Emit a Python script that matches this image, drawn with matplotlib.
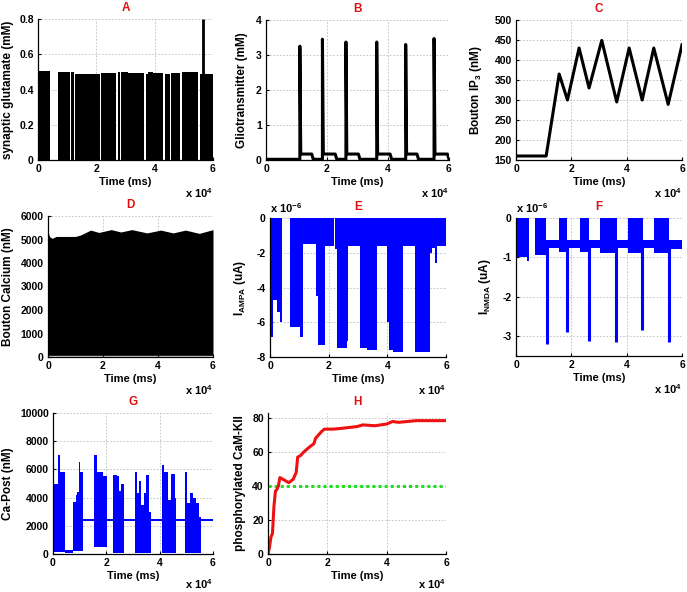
import numpy as np
import matplotlib
matplotlib.use('Agg')
import matplotlib.pyplot as plt

# ---------------- data (time axis in units of 1e4 ms) ----------------
x_ticks = [0, 2, 4, 6]
x_ticklabels = ['0', '2', '4', '6']

# A: synaptic glutamate (mM) - dense pulses drawn as filled blocks
glu_start = [0.00, 0.69, 1.14, 1.27, 2.17, 2.74, 2.86, 3.10, 3.69, 3.78, 3.95, 4.34, 4.56, 4.94, 5.54]
glu_end   = [0.40, 1.09, 1.22, 2.11, 2.69, 2.80, 3.08, 3.63, 3.77, 3.93, 4.29, 4.54, 4.86, 5.49, 6.00]
glu_top   = [0.505, 0.50, 0.50, 0.49, 0.495, 0.50, 0.50, 0.495, 0.49, 0.50, 0.495, 0.49, 0.495, 0.50, 0.49]
glu_spike_t = [5.66]
glu_spike_v = [0.80]
glu_yticks = [0, 0.2, 0.4, 0.6, 0.8]
glu_yticklabels = ['0', '0.2', '0.4', '0.6', '0.8']

# B: gliotransmitter (mM)
glio_spike_t = [1.11, 1.85, 2.62, 3.63, 4.58, 5.51]
glio_peak = [3.25, 3.45, 3.37, 3.37, 3.30, 3.47]
glio_plateau_end = [1.55, 2.32, 3.08, 4.12, 5.00, 6.00]
glio_plateau = 0.17
glio_base = 0.02
glio_yticks = [0, 1, 2, 3, 4]

# C: bouton IP3 (nM)
ip3_t = [0, 1.09, 1.56, 1.86, 2.28, 2.64, 3.10, 3.64, 4.09, 4.56, 4.98, 5.50, 6.0]
ip3_v = [160, 160, 365, 300, 430, 330, 449, 295, 430, 300, 430, 289, 438]
ip3_yticks = [150, 200, 250, 300, 350, 400, 450, 500]

# D: bouton calcium (nM) - upper envelope of dense oscillation
ca_t = [0, 0.02, 0.06, 0.15, 0.3, 1.0, 1.2, 1.55, 1.85, 2.3, 2.65, 3.05, 3.6, 4.1, 4.55, 5.0, 5.5, 6.0]
ca_top = [6000, 5250, 5120, 5050, 5130, 5130, 5200, 5400, 5300, 5420, 5320, 5420, 5280, 5400, 5280, 5400, 5260, 5420]
ca_bottom = 70
ca_yticks = [0, 1000, 2000, 3000, 4000, 5000, 6000]

# E: I_AMPA (x1e-6 uA) - lower envelope per segment
ampa_edges = [0, 0.09, 0.23, 0.34, 0.42, 0.68, 1.02, 1.11, 1.15, 1.57, 1.65, 1.88, 2.18, 2.22, 2.27,
              2.61, 2.67, 3.07, 3.30, 3.64, 3.98, 4.07, 4.20, 4.55, 4.94, 5.45, 5.51, 5.63, 5.70, 6.0]
ampa_min = [-6.85, -4.7, -5.4, -6.0, 0, -6.3, -6.85, -1.5, -1.5, -4.5, -7.3, -1.6, 0, -1.8, -7.5,
            -7.1, -1.6, -7.5, -7.6, -1.6, -6.0, -7.6, -7.7, -1.6, -7.7, -2.0, -1.7, -2.6, -1.6]
ampa_yticks = [0, -2, -4, -6, -8]

# F: I_NMDA (x1e-6 uA) - band envelopes + sharp spikes
nmda_edges = [0, 0.40, 0.46, 0.70, 1.10, 1.55, 1.85, 2.30, 2.65, 3.05, 3.65, 4.05, 4.58, 5.00, 5.52, 6.0]
nmda_upper = [0, 0, 0, 0, -0.55, 0, -0.55, 0, -0.55, 0, -0.55, 0, -0.55, 0, -0.55]
nmda_lower = [-1.0, -1.08, 0, -0.94, -0.75, -0.85, -0.75, -0.86, -0.76, -0.88, -0.75, -0.88, -0.75, -0.88, -0.78]
nmda_spike_t = [1.11, 1.86, 2.64, 3.63, 4.56, 5.52]
nmda_spike_v = [-3.19, -2.88, -3.13, -3.14, -2.84, -3.15]
nmda_yticks = [0, -1, -2, -3]

# G: Ca-Post (nM) - envelopes per segment
capost_edges = [0.00, 0.18, 0.27, 0.45, 0.75, 0.85, 0.91, 0.96, 1.01, 1.12, 1.55, 1.65, 1.87, 2.02,
                2.25, 2.40, 2.48, 2.56, 2.66, 3.06, 3.15, 3.22, 3.31, 3.40, 3.50, 3.59, 3.69, 4.10,
                4.18, 4.31, 4.44, 4.56, 4.60, 4.95, 5.03, 5.13, 5.25, 5.38, 5.46, 5.56, 6.00]
capost_upper = [5000, 7000, 5800, 250, 3700, 4200, 4400, 6500, 5800, 2480, 7000, 5800, 5500, 2480,
                5600, 5500, 4500, 5000, 2480, 5800, 4300, 5200, 3500, 4300, 5600, 3000, 2480, 6300,
                5800, 3800, 5700, 4000, 2480, 5800, 3600, 4300, 4000, 3600, 2600, 2480]
capost_lower = [150, 150, 150, 60, 200, 200, 200, 200, 200, 2340, 500, 500, 500, 2340,
                100, 100, 100, 100, 2340, 100, 100, 100, 100, 100, 100, 100, 2340, 100,
                100, 100, 100, 100, 2340, 100, 100, 100, 100, 100, 100, 2340]
capost_yticks = [0, 2000, 4000, 6000, 8000, 10000]

# H: phosphorylated CaM-KII
camk_t = [0, 0.05, 0.1, 0.15, 0.2, 0.25, 0.3, 0.35, 0.4, 0.5, 0.7, 0.85, 0.95, 1.0, 1.1, 1.2,
          1.4, 1.55, 1.6, 1.8, 1.9, 2.2, 2.5, 3.0, 3.2, 3.6, 4.0, 4.2, 4.4, 5.0, 6.0]
camk_v = [0, 4, 10, 12, 28, 37, 38, 40, 45, 44, 42, 44, 48, 57, 58, 60,
          63, 65, 68, 72, 73.5, 73.5, 74, 75, 76, 75.5, 76.5, 78, 77.5, 78.5, 78.5]
camk_threshold = 40
camk_yticks = [0, 20, 40, 60, 80]

# ---------------- styling ----------------
plt.rcParams.update({
    'font.family': ['Liberation Sans', 'DejaVu Sans'],
    'font.weight': 'bold',
    'font.size': 7.5,
    'axes.labelweight': 'bold',
    'axes.titleweight': 'bold',
    'mathtext.fontset': 'custom',
    'mathtext.rm': 'Liberation Sans:bold',
    'mathtext.it': 'Liberation Sans:bold',
    'mathtext.bf': 'Liberation Sans:bold',
    'mathtext.sf': 'Liberation Sans:bold',
    'mathtext.default': 'rm',
})

W, H = 687, 592
fig = plt.figure(figsize=(W / 100, H / 100), dpi=100)
BLUE = '#0000ff'


def make_ax(l, t, r, b, ylab_px, title, ylabel, ylim, yticks, yticklabels=None, top_mult=None,
            mult_off=33):
    ax = fig.add_axes([l / W, 1 - b / H, (r - l) / W, (b - t) / H])
    ax.set_xlim(0, 6)
    ax.set_ylim(*ylim)
    ax.set_xticks(x_ticks)
    ax.set_xticklabels(x_ticklabels)
    ax.set_yticks(yticks)
    ax.set_yticklabels(yticklabels if yticklabels is not None else [str(v) for v in yticks])
    for s in ['top', 'right']:
        ax.spines[s].set_visible(False)
    for s in ['left', 'bottom']:
        ax.spines[s].set_linewidth(0.9)
    ax.tick_params(direction='in', length=2.5, width=0.8, pad=3, labelsize=7.5)
    ax.set_axisbelow(True)
    ax.grid(True, linestyle=(0, (2, 2)), color='#bdbdbd', linewidth=0.6)
    ax.set_title(title, color='#e01010', fontsize=8.5, pad=6)
    ax.set_xlabel('Time (ms)', labelpad=2, fontsize=8)
    ax.set_ylabel(ylabel, fontsize=8.5)
    ax.yaxis.set_label_coords((ylab_px - l) / (r - l), 0.5)
    ax.annotate('x 10$^{4}$', xy=(1, 0), xycoords='axes fraction', xytext=(0, -mult_off),
                textcoords='offset pixels', ha='right', va='center', fontsize=8)
    if top_mult is not None:
        ax.annotate(top_mult, xy=(0, 1), xycoords='axes fraction', xytext=(0, 10),
                    textcoords='offset pixels', ha='left', va='center', fontsize=8)
    return ax


# A
axA = make_ax(38, 19, 213, 160, 14, 'A', 'synaptic glutamate (mM)', (0, 0.8), glu_yticks, glu_yticklabels)
axA.bar(glu_start, glu_top, width=np.array(glu_end) - np.array(glu_start), align='edge',
        color='black', linewidth=0)
axA.vlines(glu_spike_t, 0, glu_spike_v, color='black', linewidth=2)

# B
axB = make_ax(266, 20, 449, 160, 248, 'B', 'Gliotransmitter (mM)', (0, 4), glio_yticks)
bt, bv = [0.0], [glio_base]
for ts, pk, pe in zip(glio_spike_t, glio_peak, glio_plateau_end):
    bt += [ts, ts, ts + 0.03, pe - 0.05, pe]
    bv += [glio_base, pk, glio_plateau, glio_plateau, glio_base]
if bt[-1] < 6:
    bt.append(6.0); bv.append(bv[-1])
axB.axhline(0, color='#888888', linewidth=0.8)
axB.plot(bt, bv, color='black', linewidth=2.2)

# C
axC = make_ax(516, 20, 682, 160, 484, 'C', 'Bouton IP$_3$ (nM)', (150, 500), ip3_yticks)
axC.plot(ip3_t, ip3_v, color='black', linewidth=2.2)

# D
axD = make_ax(48, 216, 213, 357, 14, 'D', 'Bouton Calcium (nM)', (0, 6000), ca_yticks)
axD.fill_between(ca_t, ca_bottom, ca_top, color='black', linewidth=0)
axD.axhline(0, color='black', linewidth=1)

# E
axE = make_ax(270, 218, 446, 357, 248, 'E', 'I$_{AMPA}$ (uA)', (-8, 0), ampa_yticks,
              top_mult='x 10$^{-6}$')
axE.stairs(ampa_min, ampa_edges, baseline=0, fill=True, color=BLUE, linewidth=0)

# F
axF = make_ax(516, 218, 682, 356, 493, 'F', 'I$_{NMDA}$ (uA)', (-3.5, 0), nmda_yticks,
              top_mult='x 10$^{-6}$')
axF.stairs(nmda_lower, nmda_edges, baseline=nmda_upper, fill=True, color=BLUE, linewidth=0)
axF.vlines(nmda_spike_t, -0.7, nmda_spike_v, color=BLUE, linewidth=2.2)

# G
axG = make_ax(53, 413, 213, 554, 14, 'G', 'Ca-Post (nM)', (0, 10000), capost_yticks, mult_off=30)
axG.stairs(capost_upper, capost_edges, baseline=capost_lower, fill=True, color=BLUE, linewidth=0)

# H
axH = make_ax(268, 413, 446, 554, 246, 'H', 'phosphorylated CaM-KII', (0, 83), camk_yticks,
              mult_off=30)
axH.axhline(camk_threshold, color='#22dd22', linestyle=(0, (1, 1)), linewidth=2.2)
axH.plot(camk_t, camk_v, color='#ee1111', linewidth=2.2)

fig.savefig('out.png', dpi=100)
